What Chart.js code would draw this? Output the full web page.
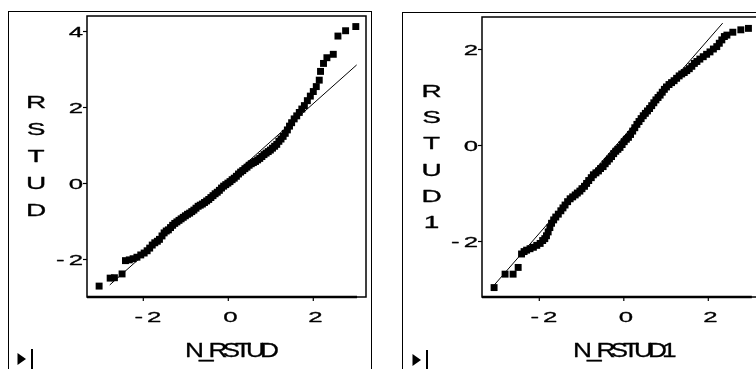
<!DOCTYPE html>
<html>
<head>
<meta charset="utf-8">
<script src="https://cdn.jsdelivr.net/npm/chart.js@4.4.1/dist/chart.umd.min.js"></script>
<style>
  html, body { margin: 0; padding: 0; background: #fff; width: 756px; height: 369px; overflow: hidden; position: relative; }
  .frame { position: absolute; border: 1.5px solid #000; box-sizing: border-box; }
  canvas { position: absolute; top: 0; }
</style>
</head>
<body>
<div class="frame" style="left:8px; top:11px; width:364px; height:420px;"></div>
<div class="frame" style="left:402px; top:12px; width:420px; height:420px;"></div>
<canvas id="plotRstud" width="378" height="369" style="left:0px"></canvas>
<canvas id="plotRstud1" width="392" height="369" style="left:380px"></canvas>
<script>
// normal scores and sorted studentized residuals, first model
const nRstud = [-3.04, -2.78, -2.68, -2.50, -2.42, -2.33, -2.24, -2.15, -2.06, -1.98,
  -1.91, -1.85, -1.79, -1.73, -1.67, -1.62, -1.56, -1.51, -1.46, -1.41,
  -1.36, -1.31, -1.26, -1.21, -1.16, -1.11, -1.06, -1.01, -0.96, -0.91,
  -0.86, -0.81, -0.76, -0.71, -0.66, -0.61, -0.56, -0.51, -0.46, -0.41,
  -0.36, -0.31, -0.26, -0.21, -0.16, -0.11, -0.06, -0.01, 0.04, 0.09,
  0.14, 0.19, 0.24, 0.29, 0.34, 0.39, 0.44, 0.49, 0.54, 0.59,
  0.64, 0.69, 0.74, 0.79, 0.84, 0.89, 0.94, 0.99, 1.04, 1.09,
  1.14, 1.19, 1.24, 1.29, 1.34, 1.39, 1.44, 1.49, 1.55, 1.61,
  1.67, 1.73, 1.79, 1.86, 1.93, 2.00, 2.07, 2.14, 2.17, 2.24,
  2.32, 2.47, 2.58, 2.76, 3.00];
const rstud = [-2.70, -2.49, -2.48, -2.38, -2.03, -2.01, -1.98, -1.94, -1.88, -1.83,
  -1.77, -1.70, -1.62, -1.56, -1.52, -1.47, -1.38, -1.30, -1.25, -1.22,
  -1.16, -1.10, -1.05, -1.01, -0.97, -0.93, -0.89, -0.85, -0.81, -0.78,
  -0.74, -0.70, -0.65, -0.60, -0.57, -0.54, -0.50, -0.46, -0.42, -0.37,
  -0.32, -0.27, -0.23, -0.18, -0.12, -0.07, -0.03, 0.01, 0.05, 0.10,
  0.14, 0.19, 0.25, 0.30, 0.34, 0.39, 0.43, 0.48, 0.52, 0.55,
  0.58, 0.62, 0.66, 0.71, 0.76, 0.80, 0.84, 0.88, 0.93, 0.98,
  1.03, 1.11, 1.17, 1.24, 1.32, 1.41, 1.51, 1.60, 1.70, 1.78,
  1.87, 1.96, 2.05, 2.18, 2.30, 2.42, 2.55, 2.72, 2.95, 3.16,
  3.31, 3.40, 3.88, 4.02, 4.13];

// second model
const nRstud1 = [-3.07, -2.81, -2.62, -2.50, -2.42, -2.36, -2.30, -2.22, -2.14, -2.06,
  -1.98, -1.92, -1.87, -1.83, -1.79, -1.75, -1.71, -1.66, -1.61, -1.55,
  -1.49, -1.44, -1.39, -1.33, -1.27, -1.21, -1.15, -1.10, -1.04, -0.99,
  -0.93, -0.88, -0.83, -0.77, -0.72, -0.66, -0.60, -0.55, -0.49, -0.44,
  -0.39, -0.34, -0.29, -0.24, -0.19, -0.14, -0.09, -0.04, 0.01, 0.06,
  0.11, 0.16, 0.21, 0.26, 0.31, 0.36, 0.41, 0.46, 0.51, 0.56,
  0.61, 0.66, 0.71, 0.76, 0.81, 0.86, 0.91, 0.96, 1.01, 1.07,
  1.13, 1.19, 1.25, 1.31, 1.37, 1.43, 1.49, 1.55, 1.61, 1.67,
  1.73, 1.80, 1.88, 1.96, 2.04, 2.12, 2.20, 2.26, 2.32, 2.38,
  2.44, 2.58, 2.77, 2.95];
const rstud1 = [-2.96, -2.68, -2.68, -2.54, -2.26, -2.21, -2.18, -2.15, -2.12, -2.08,
  -2.04, -1.98, -1.94, -1.88, -1.80, -1.71, -1.62, -1.55, -1.49, -1.43,
  -1.36, -1.30, -1.24, -1.17, -1.11, -1.07, -1.03, -0.99, -0.95, -0.90,
  -0.85, -0.79, -0.73, -0.67, -0.61, -0.57, -0.53, -0.48, -0.44, -0.38,
  -0.33, -0.28, -0.23, -0.17, -0.12, -0.08, -0.04, 0.02, 0.08, 0.13,
  0.17, 0.23, 0.30, 0.37, 0.44, 0.50, 0.56, 0.62, 0.67, 0.72,
  0.77, 0.83, 0.89, 0.95, 1.00, 1.05, 1.11, 1.17, 1.22, 1.27,
  1.31, 1.35, 1.40, 1.45, 1.49, 1.52, 1.56, 1.60, 1.65, 1.71,
  1.75, 1.80, 1.85, 1.90, 1.95, 2.01, 2.06, 2.13, 2.20, 2.27,
  2.30, 2.36, 2.41, 2.44];

// reference lines (end points)
const refX = [-2.79, 3.02];
const refY = [-2.67, 3.12];
const ref1X = [-3.07, 2.34];
const ref1Y = [-2.91, 2.55];

// axis ticks
const xTicks = [-2, 0, 2];
const yTicks = [-2, 0, 2, 4];
const yTicks1 = [-2, 0, 2];

const FONT = '"Liberation Sans", Arial, sans-serif';

function toPoints(xs, ys) {
  return xs.map((x, i) => ({ x: x, y: ys[i] }));
}

function tickText(v) {
  return v < 0 ? '-' + Math.abs(v) : String(v);
}

// width of a horizontally stretched string
function wideWidth(ctx, str, font, sx, gap) {
  ctx.font = font;
  const chars = [...str];
  let w = 0;
  chars.forEach((c, i) => { w += ctx.measureText(c).width * sx + (i < chars.length - 1 ? gap : 0); });
  return w;
}

// draws text char by char, stretched by sx, starting at x (baseline y)
function wideText(ctx, str, x, y, font, sx, gap) {
  ctx.save();
  ctx.font = font;
  ctx.textAlign = 'left';
  ctx.textBaseline = 'alphabetic';
  ctx.lineWidth = 0.3;
  ctx.lineJoin = 'round';
  let cx = x;
  [...str].forEach(c => {
    ctx.save();
    ctx.translate(cx, y);
    ctx.scale(sx, 1);
    ctx.fillText(c, 0, 0);
    ctx.strokeText(c, 0, 0);
    ctx.restore();
    cx += ctx.measureText(c).width * sx + gap;
  });
  ctx.restore();
}

const panelDecor = {
  id: 'panelDecor',
  afterDraw(chart, args, o) {
    const ctx = chart.ctx;
    const a = chart.chartArea;
    const xs = chart.scales.x, ys = chart.scales.y;
    ctx.save();
    ctx.strokeStyle = '#000';
    ctx.fillStyle = '#000';

    // plot box
    ctx.lineWidth = 1.5;
    ctx.strokeRect(a.left, a.top, a.right - a.left, a.bottom - a.top);

    // heavy horizontal axis
    ctx.lineWidth = 2.5;
    ctx.beginPath();
    ctx.moveTo(a.left, a.bottom);
    ctx.lineTo(xs.getPixelForValue(o.axisEnd), a.bottom);
    ctx.stroke();

    const tickFont = '15px ' + FONT;
    const sx = 1.72;
    ctx.lineWidth = 1.2;

    // y ticks and labels
    o.yTicks.forEach(v => {
      const py = ys.getPixelForValue(v);
      ctx.beginPath();
      ctx.moveTo(a.left - 4, py);
      ctx.lineTo(a.left, py);
      ctx.stroke();
      const t = tickText(v);
      const w = wideWidth(ctx, t, tickFont, sx, 4);
      wideText(ctx, t, a.left - 4 - w, py + 5.5, tickFont, sx, 4);
    });

    // x ticks and labels
    o.xTicks.forEach(v => {
      const px = xs.getPixelForValue(v);
      ctx.beginPath();
      ctx.moveTo(px, a.bottom);
      ctx.lineTo(px, a.bottom + 4);
      ctx.stroke();
      const t = tickText(v);
      const w = wideWidth(ctx, t, tickFont, sx, 4);
      wideText(ctx, t, px - w / (2 * sx) - 1, a.bottom + 25, tickFont, sx, 4);
    });

    // vertical axis title, one letter per row
    const yFont = '16px ' + FONT;
    [...o.yTitle].forEach((c, i) => {
      const cy = o.yTitleTop + i * o.yTitleStep;
      const w = wideWidth(ctx, c, yFont, 1.75, 0);
      wideText(ctx, c, o.yTitleX - w / 2, cy + 5.8, yFont, 1.75, 0);
    });

    // horizontal axis title
    wideText(ctx, o.xTitle, o.xTitleLeft, 356.5, '21px ' + FONT, 1.25, -5);

    // small scroll marker in the corner
    const m = o.marker;
    ctx.beginPath();
    ctx.moveTo(m[0], m[1]);
    ctx.lineTo(m[0] + 8.5, m[1] + 6);
    ctx.lineTo(m[0], m[1] + 12);
    ctx.closePath();
    ctx.fill();
    ctx.fillRect(m[0] + 13.5, m[1] - 4, 2, 22);

    ctx.restore();
  }
};

function makePanel(id, pts, line, xRange, yRange, decor) {
  return new Chart(document.getElementById(id), {
    type: 'scatter',
    data: {
      datasets: [
        {
          type: 'line',
          data: line,
          borderColor: '#000',
          borderWidth: 1,
          pointRadius: 0,
          fill: false,
          tension: 0
        },
        {
          data: pts,
          backgroundColor: '#000',
          borderWidth: 0,
          pointStyle: 'rect',
          pointRadius: 4.9,
          pointHoverRadius: 4.9
        }
      ]
    },
    options: {
      responsive: false,
      animation: false,
      devicePixelRatio: 1,
      layout: { padding: decor.padding },
      scales: {
        x: { type: 'linear', min: xRange[0], max: xRange[1], display: false },
        y: { type: 'linear', min: yRange[0], max: yRange[1], display: false }
      },
      plugins: {
        legend: { display: false },
        tooltip: { enabled: false },
        panelDecor: decor
      }
    },
    plugins: [panelDecor]
  });
}

makePanel('plotRstud',
  toPoints(nRstud, rstud),
  toPoints(refX, refY),
  [-3.325, 3.240], [-2.987, 4.408],
  {
    padding: { left: 87, top: 16, right: 12, bottom: 72 },
    xTicks: xTicks, yTicks: yTicks, axisEnd: 3.03,
    yTitle: 'RSTUD', yTitleX: 36, yTitleTop: 102.5, yTitleStep: 26.8,
    xTitle: 'N_RSTUD', xTitleLeft: 185,
    marker: [17.5, 353]
  });

makePanel('plotRstud1',
  toPoints(nRstud1, rstud1),
  toPoints(ref1X, ref1Y),
  [-3.356, 3.247], [-3.156, 2.677],
  {
    padding: { left: 102, top: 17, right: 11, bottom: 72 },
    xTicks: xTicks, yTicks: yTicks1, axisEnd: 3.03,
    yTitle: 'RSTUD1', yTitleX: 51.5, yTitleTop: 91, yTitleStep: 26.3,
    xTitle: 'N_RSTUD1', xTitleLeft: 193,
    marker: [32.5, 354]
  });
</script>
</body>
</html>
